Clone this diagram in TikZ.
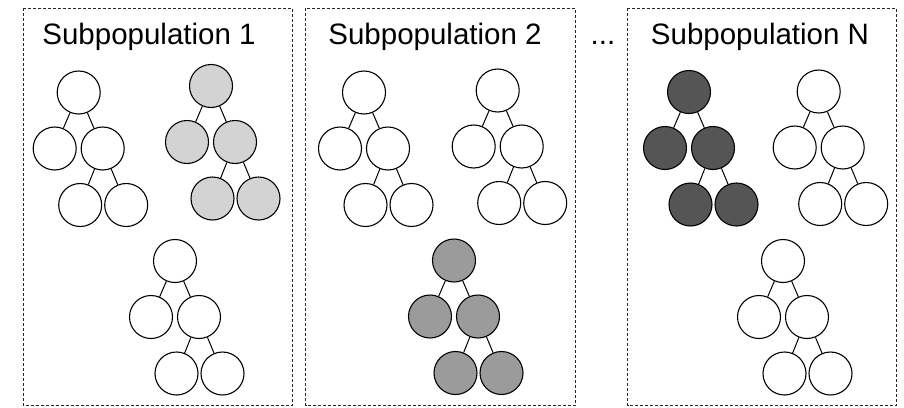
\documentclass[tikz,border=0pt]{standalone}
\usepackage{fontspec}
\setmainfont{Liberation Sans}
\usetikzlibrary{calc}

\definecolor{fillLight}{RGB}{211,211,211}
\definecolor{fillMid}{RGB}{155,155,155}
\definecolor{fillDark}{RGB}{85,85,85}

\tikzset{
  treenode/.style={circle, draw=black, line width=1.1pt, minimum size=43pt, inner sep=0pt},
  treeedge/.style={draw=black, line width=1.0pt},
  popbox/.style={draw=black!85, line width=0.8pt, dash pattern=on 3pt off 2pt},
  poptitle/.style={anchor=base, inner sep=0pt, font=\fontsize{29.5}{34}\selectfont}
}

% One tree: root, a leaf on the left, an inner node on the right with two leaves.
% #1 name prefix, #2 x, #3 y of the root, #4 fill colour
\newcommand{\smalltree}[4]{%
  \node[treenode, fill=#4] (#1r)  at (#2, #3) {};
  \node[treenode, fill=#4] (#1l)  at ($(#1r)+(-24,56)$) {};
  \node[treenode, fill=#4] (#1m)  at ($(#1r)+(24,56)$) {};
  \node[treenode, fill=#4] (#1ml) at ($(#1r)+(1.5,112.5)$) {};
  \node[treenode, fill=#4] (#1mr) at ($(#1r)+(47.5,112.5)$) {};
  \draw[treeedge] (#1r) -- (#1l);
  \draw[treeedge] (#1r) -- (#1m);
  \draw[treeedge] (#1m) -- (#1ml);
  \draw[treeedge] (#1m) -- (#1mr);
}

\begin{document}
\begin{tikzpicture}[x=1pt, y=-1pt]
  \useasboundingbox (0,0) rectangle (904,407);

  % subpopulation frames
  \draw[popbox] (23,8) rectangle (292,405.5);
  \draw[popbox] (305.5,8) rectangle (575,405.5);
  \draw[popbox] (627.5,8) rectangle (896,405.5);

  % titles
  \node[poptitle] (t1) at (149,44) {Subpopulation 1};
  \node[poptitle] (t2) at (435,44) {Subpopulation 2};
  \node[poptitle] (dots) at (603,44) {...};
  \node[poptitle] (tN) at (760,44) {Subpopulation N};

  % subpopulation 1
  \smalltree{pa}{78.7}{92.5}{white}
  \smalltree{pb}{211}{86}{fillLight}
  \smalltree{pc}{175}{261}{white}

  % subpopulation 2
  \smalltree{qa}{364}{92.5}{white}
  \smalltree{qb}{497.7}{90.5}{white}
  \smalltree{qc}{454}{260.5}{fillMid}

  % subpopulation N
  \smalltree{ra}{689}{92}{fillDark}
  \smalltree{rb}{818.7}{91.5}{white}
  \smalltree{rc}{783}{261}{white}
\end{tikzpicture}
\end{document}
